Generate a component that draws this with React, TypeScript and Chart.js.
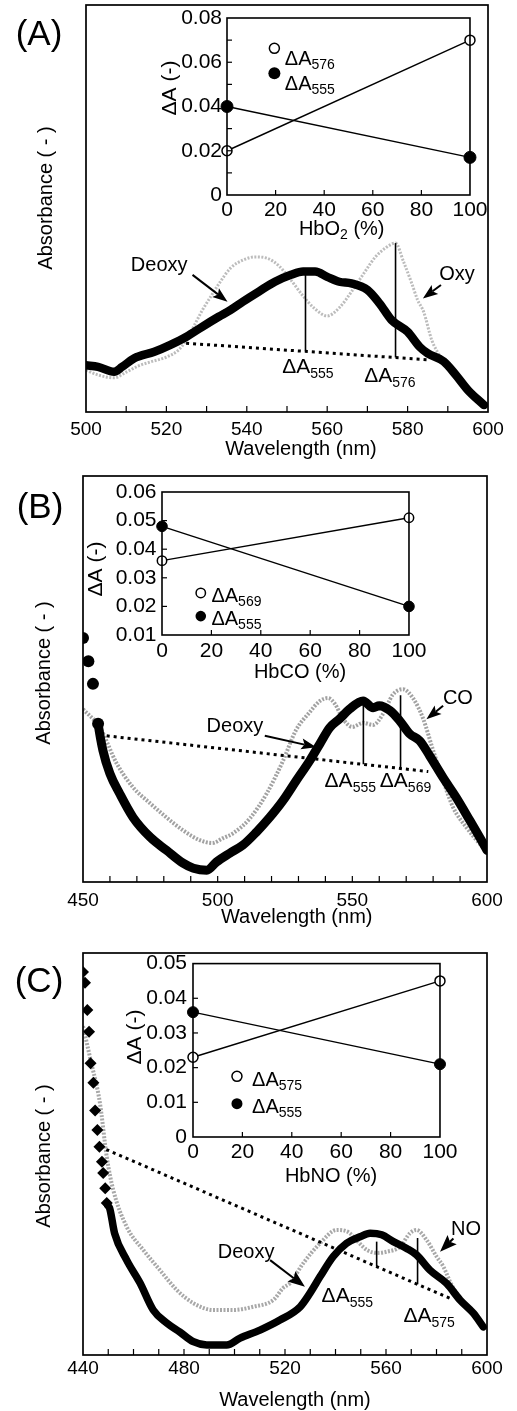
import React, { useEffect, useRef } from "react";
import { Chart, registerables } from "chart.js";

Chart.register(...registerables);

const FONT = '"Liberation Sans", Arial, Helvetica, sans-serif';
Chart.defaults.font.family = FONT;
Chart.defaults.color = "#000";

// ---------------- Panel A (Deoxy vs Oxy) ----------------
const wlDeoxyA = [500, 503, 507, 509, 512, 517, 521, 525, 529, 533, 536, 539, 543, 547, 551, 554, 557, 560, 563, 566, 570, 573, 576, 580, 583, 585, 589, 592, 595, 599];
const absDeoxyA = [0.115, 0.111, 0.099, 0.111, 0.132, 0.148, 0.165, 0.185, 0.21, 0.234, 0.251, 0.271, 0.296, 0.32, 0.337, 0.345, 0.345, 0.332, 0.32, 0.316, 0.3, 0.267, 0.226, 0.197, 0.16, 0.144, 0.124, 0.091, 0.054, 0.017];
const wlOxyA = [500, 503, 507, 510, 513, 516, 520, 523, 525, 527, 529, 531, 533, 536, 539, 542, 545, 548, 551, 554, 557, 560, 563, 566, 569, 572, 574.5, 577, 579, 581, 582.5, 584, 586, 588, 590, 595, 599];
const absOxyA = [0.103, 0.091, 0.084, 0.098, 0.113, 0.123, 0.135, 0.152, 0.177, 0.214, 0.251, 0.283, 0.314, 0.354, 0.373, 0.381, 0.378, 0.359, 0.324, 0.285, 0.253, 0.236, 0.256, 0.295, 0.339, 0.381, 0.403, 0.415, 0.369, 0.317, 0.275, 0.246, 0.177, 0.138, 0.108, 0.054, 0.017];
const wlBaseA = [524.9, 585.4];
const absBaseA = [0.169, 0.128];
const wlLine555A = [554.6, 554.6];
const absLine555A = [0.149, 0.345];
const wlLine576A = [577, 577];
const absLine576A = [0.134, 0.415];
const wlTicksA = [500, 520, 540, 560, 580, 600];

// Inset A
const hbO2Pct = [0, 100];
const dA576A = [0.02, 0.07];
const dA555A = [0.04, 0.017];
const dATicksA = [0, 0.02, 0.04, 0.06, 0.08];

// ---------------- Panel B (Deoxy vs CO) ----------------
const wlDeoxyB = [450, 452, 453.7, 455.6, 457.4, 460, 463.6, 468.6, 475, 481, 487, 491, 496, 499.5, 504.5, 509.4, 514.4, 519.3, 524.3, 529.2, 534.2, 538, 541.6, 545.3, 549, 554, 557.7, 560, 564, 567.6, 571.3, 575, 578.7, 583.7, 588.6, 593.6, 598.5, 600];
const absDeoxyB = [0.601, 0.544, 0.488, 0.39, 0.324, 0.267, 0.218, 0.159, 0.11, 0.078, 0.047, 0.034, 0.029, 0.049, 0.071, 0.091, 0.123, 0.159, 0.201, 0.25, 0.299, 0.341, 0.38, 0.402, 0.426, 0.446, 0.429, 0.434, 0.422, 0.397, 0.365, 0.348, 0.311, 0.257, 0.208, 0.152, 0.096, 0.078];
const wlCOB = [450, 456.3, 462.5, 468.6, 474.9, 481, 487.2, 493.4, 498, 502, 505.7, 512, 518.2, 524.3, 529, 534, 538, 541, 543.5, 546.5, 550, 554, 557.7, 561.4, 565, 568.8, 572.5, 576.2, 580, 583.7, 587.4, 592.3, 598.5, 600];
const absCOB = [0.426, 0.38, 0.292, 0.233, 0.194, 0.159, 0.127, 0.103, 0.096, 0.108, 0.12, 0.157, 0.218, 0.299, 0.373, 0.417, 0.446, 0.453, 0.439, 0.402, 0.382, 0.392, 0.387, 0.414, 0.461, 0.475, 0.453, 0.404, 0.324, 0.25, 0.184, 0.135, 0.086, 0.078];
const wlBaseB = [458.8, 578.2];
const absBaseB = [0.36, 0.272];
const wlLine555B = [554.1, 554.1];
const absLine555B = [0.29, 0.446];
const wlLine569B = [567.9, 567.9];
const absLine569B = [0.279, 0.46];
const wlTicksB = [450, 500, 550, 600];

// Inset B
const hbCOPct = [0, 100];
const dA569B = [0.036, 0.051];
const dA555B = [0.048, 0.02];
const dATicksB = [0.01, 0.02, 0.03, 0.04, 0.05, 0.06];

// ---------------- Panel C (Deoxy vs NO) ----------------
const wlDeoxyC = [440, 440.8, 441.7, 442.4, 443, 444.1, 444.8, 445.7, 446.5, 447.5, 448, 448.8, 449.4, 450.5, 452.5, 457.3, 462.6, 467.8, 473.1, 478.4, 483.7, 489, 496.9, 502.2, 510.1, 518, 526, 529.9, 533.9, 539.1, 544.4, 549.7, 553.7, 558.3, 562.9, 568.2, 572.1, 577.4, 584, 589.3, 594.6, 598.5];
const absDeoxyC = [0.953, 0.926, 0.858, 0.804, 0.726, 0.677, 0.608, 0.56, 0.518, 0.481, 0.453, 0.415, 0.378, 0.366, 0.303, 0.236, 0.179, 0.112, 0.08, 0.057, 0.033, 0.025, 0.025, 0.042, 0.062, 0.087, 0.12, 0.154, 0.195, 0.245, 0.278, 0.294, 0.303, 0.299, 0.282, 0.265, 0.249, 0.211, 0.178, 0.137, 0.104, 0.07];
const wlNOC = [440, 443, 446.7, 449.4, 452, 457.3, 463.9, 470.5, 477.1, 483.7, 491.6, 499.5, 507.4, 515.4, 519.3, 522, 527.2, 533.9, 540.5, 545, 549, 552.5, 556.5, 560.3, 565.5, 569.5, 572.1, 576.1, 580, 582.7, 586, 590, 595, 598.5];
const absNOC = [0.818, 0.734, 0.627, 0.493, 0.41, 0.319, 0.261, 0.211, 0.162, 0.129, 0.112, 0.112, 0.12, 0.137, 0.167, 0.179, 0.228, 0.278, 0.311, 0.306, 0.281, 0.261, 0.254, 0.257, 0.269, 0.303, 0.311, 0.286, 0.245, 0.22, 0.174, 0.137, 0.104, 0.07];
const wlBaseC = [446.7, 585.3];
const absBaseC = [0.518, 0.141];
const wlLine555C = [556.3, 556.3];
const absLine555C = [0.22, 0.282];
const wlLine575C = [572.5, 572.5];
const absLine575C = [0.176, 0.291];
const wlTicksC = [440, 480, 520, 560, 600];

// Inset C
const hbNOPct = [0, 100];
const dA575C = [0.023, 0.045];
const dA555C = [0.036, 0.021];
const dATicksC = [0, 0.01, 0.02, 0.03, 0.04, 0.05];

const pctTicks = [0, 20, 40, 60, 80, 100];

// ---------------- helpers ----------------
type Pt = { x: number; y: number };
const pts = (xs: number[], ys: number[]): Pt[] => xs.map((x, i) => ({ x, y: ys[i] }));

type Part = { t: string; size: number; dy: number };
function drawParts(ctx: CanvasRenderingContext2D, parts: Part[], x: number, y: number, align: "left" | "center") {
  let total = 0;
  const widths = parts.map((p) => {
    ctx.font = `${p.size}px ${FONT}`;
    const w = ctx.measureText(p.t).width;
    total += w;
    return w;
  });
  let cx = align === "center" ? x - total / 2 : x;
  ctx.textAlign = "left";
  ctx.textBaseline = "alphabetic";
  parts.forEach((p, i) => {
    ctx.font = `${p.size}px ${FONT}`;
    ctx.fillText(p.t, cx, y + p.dy);
    cx += widths[i];
  });
}

function drawArrow(ctx: CanvasRenderingContext2D, x0: number, y0: number, x1: number, y1: number, len: number, wid: number) {
  const ang = Math.atan2(y1 - y0, x1 - x0);
  const c = Math.cos(ang);
  const s = Math.sin(ang);
  const bx = x1 - len * c;
  const by = y1 - len * s;
  ctx.lineWidth = 2;
  ctx.beginPath();
  ctx.moveTo(x0, y0);
  ctx.lineTo(bx + 3 * c, by + 3 * s);
  ctx.stroke();
  ctx.beginPath();
  ctx.moveTo(x1, y1);
  ctx.lineTo(bx - (wid / 2) * s, by + (wid / 2) * c);
  ctx.lineTo(bx + 3 * c, by + 3 * s);
  ctx.lineTo(bx + (wid / 2) * s, by - (wid / 2) * c);
  ctx.closePath();
  ctx.fill();
}

type Box = { left: number; top: number; width: number; height: number };

interface MainCfg {
  canvas: Box;
  padTop: number;
  padRight: number;
  yAxisWidth: number;
  xAxisHeight: number;
  tickPad: number;
  xMin: number;
  xMax: number;
  xTicks: number[];
  minorStep: number;
  deoxy: Pt[];
  ligand: Pt[];
  ligandColor: string;
  ligandWidth: number;
  baseline: Pt[];
  vlines: Pt[][];
  markerCount: number;
  markerStyle: string;
  markerRadius: number;
  blackWidth: number;
  words: { text: string; x: number; y: number }[];
  deltas: { sub: string; x: number; y: number }[];
  arrows: { x0: number; y0: number; x1: number; y1: number }[];
  head: [number, number];
  letter: { text: string; x: number; y: number };
  xTitle: { x: number; y: number };
  yTitle: { x: number; y: number };
}

function buildMain(canvas: HTMLCanvasElement, p: MainCfg) {
  const decor = {
    id: "mainDecor",
    afterDatasetsDraw(chart: any) {
      const ctx: CanvasRenderingContext2D = chart.ctx;
      const a = chart.chartArea;
      const X = (v: number) => chart.scales.x.getPixelForValue(v);
      const Y = (v: number) => chart.scales.y.getPixelForValue(v);
      const ox = p.canvas.left;
      const oy = p.canvas.top;
      ctx.save();
      ctx.strokeStyle = "#000";
      ctx.fillStyle = "#000";
      ctx.lineWidth = 1.7;
      ctx.strokeRect(a.left, a.top, a.right - a.left, a.bottom - a.top);
      ctx.lineWidth = 1.2;
      for (let v = p.xMin + p.minorStep; v < p.xMax - 1e-6; v += p.minorStep) {
        const px = X(v);
        ctx.beginPath();
        ctx.moveTo(px, a.bottom);
        ctx.lineTo(px, a.bottom - 6);
        ctx.stroke();
      }
      ctx.textAlign = "center";
      ctx.textBaseline = "middle";
      ctx.font = `20px ${FONT}`;
      for (const w of p.words) ctx.fillText(w.text, X(w.x), Y(w.y));
      for (const d of p.deltas) {
        drawParts(ctx, [{ t: "ΔA", size: 21, dy: 0 }, { t: d.sub, size: 14, dy: 5 }], X(d.x), Y(d.y), "left");
      }
      for (const ar of p.arrows) drawArrow(ctx, X(ar.x0), Y(ar.y0), X(ar.x1), Y(ar.y1), p.head[0], p.head[1]);
      ctx.textAlign = "center";
      ctx.textBaseline = "middle";
      ctx.font = `20px ${FONT}`;
      ctx.fillText("Wavelength (nm)", p.xTitle.x - ox, p.xTitle.y - oy);
      ctx.save();
      ctx.translate(p.yTitle.x - ox, p.yTitle.y - oy);
      ctx.rotate(-Math.PI / 2);
      ctx.fillText("Absorbance ( - )", 0, 0);
      ctx.restore();
      ctx.font = `35px ${FONT}`;
      ctx.fillText(p.letter.text, p.letter.x - ox, p.letter.y - oy);
      ctx.restore();
    },
  };

  const datasets: any[] = [
    {
      data: p.deoxy,
      showLine: true,
      borderColor: "#000",
      borderWidth: p.blackWidth,
      borderCapStyle: "round",
      borderJoinStyle: "round",
      cubicInterpolationMode: "monotone",
      pointStyle: p.markerStyle,
      pointRadius: (c: any) => (c.dataIndex < p.markerCount ? p.markerRadius : 0),
      pointBackgroundColor: "#000",
      pointBorderColor: "#000",
      pointBorderWidth: 0,
      segment: {
        borderColor: (c: any) => (c.p1DataIndex < p.markerCount ? "rgba(0,0,0,0)" : "#000"),
      },
      order: 0,
    },
    {
      data: p.ligand,
      showLine: true,
      borderColor: p.ligandColor,
      borderWidth: p.ligandWidth,
      borderDash: [2, 1.5],
      cubicInterpolationMode: "monotone",
      pointRadius: 0,
      order: 3,
    },
    {
      data: p.baseline,
      showLine: true,
      borderColor: "#000",
      borderWidth: 3,
      borderDash: [3, 4],
      pointRadius: 0,
      order: 2,
    },
    ...p.vlines.map((v) => ({
      data: v,
      showLine: true,
      borderColor: "#000",
      borderWidth: 1.6,
      pointRadius: 0,
      order: 1,
    })),
  ];

  return new Chart(canvas, {
    type: "scatter",
    data: { datasets },
    options: {
      animation: false,
      responsive: false,
      maintainAspectRatio: false,
      events: [],
      layout: { padding: { left: 0, top: p.padTop, right: p.padRight, bottom: 0 } },
      plugins: { legend: { display: false }, tooltip: { enabled: false } },
      scales: {
        x: {
          type: "linear",
          min: p.xMin,
          max: p.xMax,
          grid: { display: false, drawTicks: false },
          border: { display: false },
          ticks: { font: { size: 19 }, padding: p.tickPad, autoSkip: false, maxRotation: 0, color: "#000" },
          afterBuildTicks: (s: any) => {
            s.ticks = p.xTicks.map((value) => ({ value }));
          },
          afterFit: (s: any) => {
            s.height = p.xAxisHeight;
          },
        },
        y: {
          type: "linear",
          min: 0,
          max: 1,
          grid: { display: false, drawTicks: false },
          border: { display: false },
          ticks: { display: false },
          afterFit: (s: any) => {
            s.width = p.yAxisWidth;
          },
        },
      },
    } as any,
    plugins: [decor as any],
  });
}

interface InsetCfg {
  canvas: Box;
  padTop: number;
  padRight: number;
  yAxisWidth: number;
  xAxisHeight: number;
  yTickPad: number;
  xTickPad: number;
  yMin: number;
  yMax: number;
  yTicks: number[];
  yMinor: number;
  pct: number[];
  openY: number[];
  filledY: number[];
  openR: number;
  filledR: number;
  openSub: string;
  filledSub: string;
  legend: { mx: number; openMY: number; filledMY: number; tx: number; openTY: number; filledTY: number };
  xTitle: { parts: Part[]; x: number; y: number };
  yTitle: { x: number; y: number };
}

function buildInset(canvas: HTMLCanvasElement, q: InsetCfg) {
  const decor = {
    id: "insetDecor",
    afterDatasetsDraw(chart: any) {
      const ctx: CanvasRenderingContext2D = chart.ctx;
      const a = chart.chartArea;
      const X = (v: number) => chart.scales.x.getPixelForValue(v);
      const Y = (v: number) => chart.scales.y.getPixelForValue(v);
      const ox = q.canvas.left;
      const oy = q.canvas.top;
      ctx.save();
      ctx.strokeStyle = "#000";
      ctx.fillStyle = "#000";
      ctx.lineWidth = 1.6;
      ctx.strokeRect(a.left, a.top, a.right - a.left, a.bottom - a.top);
      ctx.lineWidth = 1.2;
      for (const v of pctTicks.slice(1, -1)) {
        const px = X(v);
        ctx.beginPath();
        ctx.moveTo(px, a.bottom);
        ctx.lineTo(px, a.bottom - 5);
        ctx.stroke();
      }
      for (let v = q.yMin + q.yMinor; v < q.yMax - 1e-9; v += q.yMinor) {
        const py = Y(v);
        ctx.beginPath();
        ctx.moveTo(a.left, py);
        ctx.lineTo(a.left + 5, py);
        ctx.stroke();
      }
      const L = q.legend;
      ctx.lineWidth = 1.5;
      ctx.beginPath();
      ctx.arc(X(L.mx), Y(L.openMY), q.openR, 0, Math.PI * 2);
      ctx.fillStyle = "#fff";
      ctx.fill();
      ctx.stroke();
      ctx.fillStyle = "#000";
      ctx.beginPath();
      ctx.arc(X(L.mx), Y(L.filledMY), q.filledR, 0, Math.PI * 2);
      ctx.fill();
      drawParts(ctx, [{ t: "ΔA", size: 20, dy: 0 }, { t: q.openSub, size: 14, dy: 4 }], X(L.tx), Y(L.openTY), "left");
      drawParts(ctx, [{ t: "ΔA", size: 20, dy: 0 }, { t: q.filledSub, size: 14, dy: 4 }], X(L.tx), Y(L.filledTY), "left");
      drawParts(ctx, q.xTitle.parts, q.xTitle.x - ox, q.xTitle.y - oy, "center");
      ctx.save();
      ctx.translate(q.yTitle.x - ox, q.yTitle.y - oy);
      ctx.rotate(-Math.PI / 2);
      ctx.textAlign = "center";
      ctx.textBaseline = "middle";
      ctx.font = `21px ${FONT}`;
      ctx.fillText("ΔA (-)", 0, 0);
      ctx.restore();
      ctx.restore();
    },
  };

  return new Chart(canvas, {
    type: "scatter",
    data: {
      datasets: [
        {
          data: pts(q.pct, q.filledY),
          showLine: true,
          borderColor: "#000",
          borderWidth: 1.4,
          pointRadius: q.filledR,
          pointBackgroundColor: "#000",
          pointBorderColor: "#000",
          pointBorderWidth: 1,
          clip: false,
          order: 1,
        },
        {
          data: pts(q.pct, q.openY),
          showLine: true,
          borderColor: "#000",
          borderWidth: 1.4,
          pointRadius: q.openR,
          pointBackgroundColor: "#fff",
          pointBorderColor: "#000",
          pointBorderWidth: 1.5,
          clip: false,
          order: 0,
        },
      ] as any,
    },
    options: {
      animation: false,
      responsive: false,
      maintainAspectRatio: false,
      events: [],
      layout: { padding: { left: 0, top: q.padTop, right: q.padRight, bottom: 0 } },
      plugins: { legend: { display: false }, tooltip: { enabled: false } },
      scales: {
        x: {
          type: "linear",
          min: 0,
          max: 100,
          grid: { display: false, drawTicks: false },
          border: { display: false },
          ticks: { font: { size: 21 }, padding: q.xTickPad, autoSkip: false, maxRotation: 0, color: "#000" },
          afterBuildTicks: (s: any) => {
            s.ticks = pctTicks.map((value) => ({ value }));
          },
          afterFit: (s: any) => {
            s.height = q.xAxisHeight;
          },
        },
        y: {
          type: "linear",
          min: q.yMin,
          max: q.yMax,
          grid: { display: false, drawTicks: false },
          border: { display: false },
          ticks: {
            font: { size: 21 },
            padding: q.yTickPad,
            autoSkip: false,
            color: "#000",
            callback: (v: any) => (Number(v) === 0 ? "0" : Number(v).toFixed(2)),
          },
          afterBuildTicks: (s: any) => {
            s.ticks = q.yTicks.map((value) => ({ value }));
          },
          afterFit: (s: any) => {
            s.width = q.yAxisWidth;
          },
        },
      },
    } as any,
    plugins: [decor as any],
  });
}

// ---------------- panel configurations ----------------
const mainA: MainCfg = {
  canvas: { left: 0, top: 0, width: 517, height: 470 },
  padTop: 5,
  padRight: 29,
  yAxisWidth: 86,
  xAxisHeight: 58,
  tickPad: 6.6,
  xMin: 500,
  xMax: 600,
  xTicks: wlTicksA,
  minorStep: 10,
  deoxy: pts(wlDeoxyA, absDeoxyA),
  ligand: pts(wlOxyA, absOxyA),
  ligandColor: "#bcbcbc",
  ligandWidth: 3,
  baseline: pts(wlBaseA, absBaseA),
  vlines: [pts(wlLine555A, absLine555A), pts(wlLine576A, absLine576A)],
  markerCount: 0,
  markerStyle: "circle",
  markerRadius: 0,
  blackWidth: 8.5,
  words: [
    { text: "Deoxy", x: 518.2, y: 0.361 },
    { text: "Oxy", x: 592.3, y: 0.339 },
  ],
  deltas: [
    { sub: "555", x: 548.8, y: 0.096 },
    { sub: "576", x: 569.2, y: 0.074 },
  ],
  arrows: [
    { x0: 526.5, y0: 0.337, x1: 535.2, y1: 0.271 },
    { x0: 588.3, y0: 0.312, x1: 583.8, y1: 0.279 },
  ],
  head: [15, 11],
  letter: { text: "(A)", x: 39, y: 35.5 },
  xTitle: { x: 301, y: 449 },
  yTitle: { x: 46, y: 198 },
};

const mainB: MainCfg = {
  canvas: { left: 0, top: 470, width: 517, height: 470 },
  padTop: 3,
  padRight: 30,
  yAxisWidth: 83,
  xAxisHeight: 58,
  tickPad: 7.4,
  xMin: 450,
  xMax: 600,
  xTicks: wlTicksB,
  minorStep: 10,
  deoxy: pts(wlDeoxyB, absDeoxyB),
  ligand: pts(wlCOB, absCOB),
  ligandColor: "#a2a2a2",
  ligandWidth: 4,
  baseline: pts(wlBaseB, absBaseB),
  vlines: [pts(wlLine555B, absLine555B), pts(wlLine569B, absLine569B)],
  markerCount: 4,
  markerStyle: "circle",
  markerRadius: 6,
  blackWidth: 9,
  words: [
    { text: "Deoxy", x: 506.4, y: 0.382 },
    { text: "CO", x: 589.2, y: 0.451 },
  ],
  deltas: [
    { sub: "555", x: 539.7, y: 0.234 },
    { sub: "569", x: 560.2, y: 0.234 },
  ],
  arrows: [
    { x0: 517.5, y0: 0.36, x1: 536.6, y1: 0.332 },
    { x0: 583.7, y0: 0.434, x1: 577.5, y1: 0.401 },
  ],
  head: [15, 11],
  letter: { text: "(B)", x: 40, y: 508 },
  xTitle: { x: 296.7, y: 917.5 },
  yTitle: { x: 44, y: 673 },
};

const mainC: MainCfg = {
  canvas: { left: 0, top: 940, width: 517, height: 471 },
  padTop: 13,
  padRight: 30,
  yAxisWidth: 83,
  xAxisHeight: 56,
  tickPad: 2.6,
  xMin: 440,
  xMax: 600,
  xTicks: wlTicksC,
  minorStep: 10,
  deoxy: pts(wlDeoxyC, absDeoxyC),
  ligand: pts(wlNOC, absNOC),
  ligandColor: "#a8a8a8",
  ligandWidth: 4,
  baseline: pts(wlBaseC, absBaseC),
  vlines: [pts(wlLine555C, absLine555C), pts(wlLine575C, absLine575C)],
  markerCount: 13,
  markerStyle: "rectRot",
  markerRadius: 6,
  blackWidth: 7.5,
  words: [
    { text: "Deoxy", x: 504.6, y: 0.256 },
    { text: "NO", x: 591.7, y: 0.311 },
  ],
  deltas: [
    { sub: "555", x: 534.5, y: 0.133 },
    { sub: "575", x: 566.9, y: 0.083 },
  ],
  arrows: [
    { x0: 514.1, y0: 0.236, x1: 527.9, y1: 0.17 },
    { x0: 586.7, y0: 0.29, x1: 581.4, y1: 0.257 },
  ],
  head: [17, 13],
  letter: { text: "(C)", x: 39, y: 982 },
  xTitle: { x: 295, y: 1400 },
  yTitle: { x: 44, y: 1156 },
};

const insetA: InsetCfg = {
  canvas: { left: 150, top: 0, width: 340, height: 245 },
  padTop: 18,
  padRight: 12,
  yAxisWidth: 77,
  xAxisHeight: 50,
  yTickPad: 5,
  xTickPad: 2.5,
  yMin: 0,
  yMax: 0.08,
  yTicks: dATicksA,
  yMinor: 0.01,
  pct: hbO2Pct,
  openY: dA576A,
  filledY: dA555A,
  openR: 5,
  filledR: 6,
  openSub: "576",
  filledSub: "555",
  legend: { mx: 19.5, openMY: 0.0663, filledMY: 0.055, tx: 23.8, openTY: 0.0588, filledTY: 0.0475 },
  xTitle: {
    parts: [
      { t: "HbO", size: 20, dy: 0 },
      { t: "2", size: 14, dy: 4 },
      { t: " (%)", size: 20, dy: 0 },
    ],
    x: 341.7,
    y: 235,
  },
  yTitle: { x: 170, y: 88 },
};

const insetB: InsetCfg = {
  canvas: { left: 70, top: 470, width: 360, height: 220 },
  padTop: 22,
  padRight: 17,
  yAxisWidth: 92,
  xAxisHeight: 55,
  yTickPad: 5.5,
  xTickPad: 3.5,
  yMin: 0.01,
  yMax: 0.06,
  yTicks: dATicksB,
  yMinor: 0.01,
  pct: hbCOPct,
  openY: dA569B,
  filledY: dA555B,
  openR: 4.7,
  filledR: 5.3,
  openSub: "569",
  filledSub: "555",
  legend: { mx: 15.7, openMY: 0.0247, filledMY: 0.0166, tx: 20, openTY: 0.0217, filledTY: 0.0135 },
  xTitle: { parts: [{ t: "HbCO (%)", size: 20, dy: 0 }], x: 300, y: 678 },
  yTitle: { x: 96.7, y: 569 },
};

const insetC: InsetCfg = {
  canvas: { left: 100, top: 945, width: 360, height: 245 },
  padTop: 17,
  padRight: 15,
  yAxisWidth: 93,
  xAxisHeight: 53,
  yTickPad: 6,
  xTickPad: 2.5,
  yMin: 0,
  yMax: 0.05,
  yTicks: dATicksC,
  yMinor: 0.01,
  pct: hbNOPct,
  openY: dA575C,
  filledY: dA555C,
  openR: 5,
  filledR: 5.5,
  openSub: "575",
  filledSub: "555",
  legend: { mx: 17.8, openMY: 0.0175, filledMY: 0.0096, tx: 23.9, openTY: 0.0146, filledTY: 0.0068 },
  xTitle: { parts: [{ t: "HbNO (%)", size: 20, dy: 0 }], x: 331, y: 1181.7 },
  yTitle: { x: 135, y: 1037 },
};

function ChartCanvas({ box, build }: { box: Box; build: (c: HTMLCanvasElement) => Chart }) {
  const ref = useRef<HTMLCanvasElement | null>(null);
  useEffect(() => {
    if (!ref.current) return;
    const chart = build(ref.current);
    return () => chart.destroy();
  }, []);
  return (
    <canvas
      ref={ref}
      width={box.width}
      height={box.height}
      style={{ position: "absolute", left: box.left, top: box.top, width: box.width, height: box.height }}
    />
  );
}

export default function App() {
  return (
    <div style={{ position: "absolute", left: 0, top: 0, width: 517, height: 1411, background: "#fff", overflow: "hidden" }}>
      <ChartCanvas box={mainA.canvas} build={(c) => buildMain(c, mainA)} />
      <ChartCanvas box={mainB.canvas} build={(c) => buildMain(c, mainB)} />
      <ChartCanvas box={mainC.canvas} build={(c) => buildMain(c, mainC)} />
      <ChartCanvas box={insetA.canvas} build={(c) => buildInset(c, insetA)} />
      <ChartCanvas box={insetB.canvas} build={(c) => buildInset(c, insetB)} />
      <ChartCanvas box={insetC.canvas} build={(c) => buildInset(c, insetC)} />
    </div>
  );
}
